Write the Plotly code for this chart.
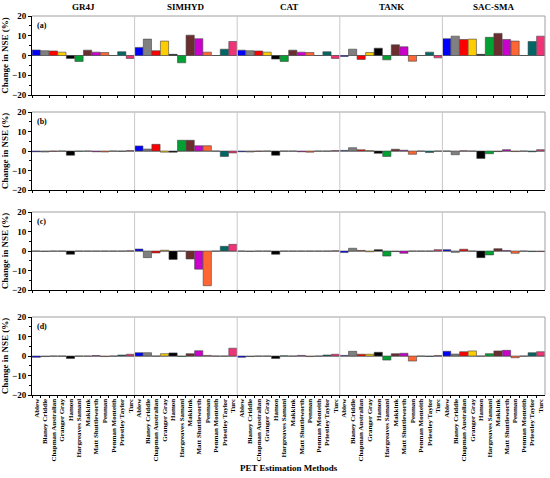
import plotly.graph_objects as go

methods = ["Ablew", "Blaney Criddle", "Chapman Australian", "Granger Gray", "Hamon",
           "Hargreaves Samani", "Makkink", "Matt Shuttleworth", "Penman",
           "Penman Monteith", "Priestley Taylor", "Turc"]
models = ["GR4J", "SIMHYD", "CAT", "TANK", "SAC-SMA"]
panel_labels = ["(a)", "(b)", "(c)", "(d)"]
colors = ["#0000FF", "#808080", "#FF0000", "#FFCC00", "#000000", "#00A033",
          "#6B2D2D", "#CC00CC", "#FF6633", "#FFFFFF", "#006666", "#EE3377"]

nse_a = {
    "GR4J":    [2.8, 2.4, 2.3, 1.7, -1.5, -3.0, 2.7, 1.7, 1.5, 0, 1.9, -1.5],
    "SIMHYD":  [4.1, 8.3, 2.4, 7.3, 0.6, -3.7, 10.3, 8.5, 1.7, 0, 3.2, 7.1],
    "CAT":     [2.7, 2.4, 2.3, 1.7, -1.8, -3.0, 2.7, 1.7, 1.5, 0, 1.9, -1.5],
    "TANK":    [-0.5, 3.2, -2.0, 1.5, 3.7, -2.2, 5.4, 4.4, -2.9, 0, 1.7, -1.2],
    "SAC-SMA": [8.5, 9.8, 8.1, 8.3, 0.6, 9.2, 11.2, 8.1, 7.3, 0, 7.1, 9.8],
}
nse_b = {
    "GR4J":    [-0.4, -0.5, -0.1, 0.0, -2.2, -0.1, 0.0, -0.4, -0.5, 0, -0.1, 0.2],
    "SIMHYD":  [2.6, 1.0, 3.4, -0.6, -0.6, 5.5, 5.5, 2.7, 2.7, 0, -2.8, -1.0],
    "CAT":     [-0.4, -0.5, -0.1, 0.0, -2.2, 0.0, 0.0, -0.4, -0.6, 0, 0.0, 0.2],
    "TANK":    [0.3, 1.7, 0.6, 0.2, -1.2, -2.8, 0.9, 0.4, -1.7, 0, -0.8, 0.0],
    "SAC-SMA": [0.0, -1.9, 0.1, 0.0, -3.8, -1.4, -0.3, 0.7, -0.3, 0, -0.4, 0.7],
}
nse_c = {
    "GR4J":    [0.0, -0.2, 0.0, 0.0, -1.7, 0.0, 0.0, 0.0, 0.0, 0, 0.0, 0.1],
    "SIMHYD":  [1.0, -3.4, -1.0, 0.4, -4.3, 0.0, -4.1, -9.3, -17.8, 0, 2.4, 3.4],
    "CAT":     [0.0, -0.2, 0.0, 0.0, -1.7, 0.0, 0.0, 0.0, 0.0, 0, 0.0, 0.1],
    "TANK":    [-0.8, 1.4, 0.3, -0.4, 0.7, -2.6, -0.3, -1.2, 0.0, 0, 0.0, 0.7],
    "SAC-SMA": [0.7, -0.7, 0.9, 0.0, -3.4, -2.0, 1.2, 0.2, -1.2, 0, -0.3, -0.3],
}
nse_d = {
    "GR4J":    [-0.7, -0.3, 0.0, 0.0, -1.3, 0.0, 0.0, 0.2, -0.3, 0, 0.5, 0.9],
    "SIMHYD":  [1.7, 1.7, 0.0, 1.2, 1.6, -0.2, 1.2, 2.7, 0.3, 0, 0.0, 4.0],
    "CAT":     [-0.7, -0.3, 0.0, 0.0, -1.3, 0.1, 0.0, 0.3, -0.3, 0, 0.5, 0.9],
    "TANK":    [0.3, 2.4, 0.9, 0.9, 1.9, -2.1, 1.2, 1.4, -2.6, 0, -0.2, 0.2],
    "SAC-SMA": [2.4, 1.0, 2.2, 2.6, 0.0, 1.2, 2.6, 2.9, -0.9, 0, 1.7, 2.2],
}
rows_data = [nse_a, nse_b, nse_c, nse_d]

# layout geometry (pixels)
W, H = 550, 478
L, R, T, B = 32, 5, 16, 83
plot_h = H - T - B
row_px = [(16, 95), (112, 190), (212, 290), (317, 395)]
row_dom = [[(395 - b) / plot_h, (395 - t) / plot_h] for t, b in row_px]
ncol = 5

FONT = "Liberation Serif"
fig = go.Figure()
layout = {}
shapes = []
annotations = []

for r, data in enumerate(rows_data):
    for c, m in enumerate(models):
        i = r * ncol + c + 1
        xa = "x" if i == 1 else f"x{i}"
        ya = "y" if i == 1 else f"y{i}"
        fig.add_trace(go.Bar(
            x=methods, y=data[m], xaxis=xa, yaxis=ya,
            marker=dict(color=colors, line=dict(color="#444444", width=0.6)),
            showlegend=False, hoverinfo="x+y"))
        xkey = "xaxis" if i == 1 else f"xaxis{i}"
        ykey = "yaxis" if i == 1 else f"yaxis{i}"
        layout[xkey] = dict(
            domain=[c / ncol, (c + 1) / ncol], anchor=ya,
            type="category", categoryorder="array", categoryarray=methods,
            showline=True, linecolor="black", linewidth=1,
            ticks="outside", ticklen=2, tickcolor="black", tickson="boundaries",
            showticklabels=(r == 3), tickangle=-90,
            tickfont=dict(family=FONT, size=7, color="black", weight="bold"),
            showgrid=False, zeroline=False, fixedrange=True, automargin=False)
        ydict = dict(
            domain=row_dom[r], anchor=xa, range=[-20, 20],
            showgrid=False, zeroline=True, zerolinecolor="#A0A0A0", zerolinewidth=1,
            fixedrange=True, automargin=False)
        if c == 0:
            ydict.update(
                showline=True, linecolor="black", linewidth=1,
                ticks="outside", ticklen=3, tickcolor="black",
                tickvals=[-20, -10, 0, 10, 20],
                minor=dict(tickvals=[-15, -5, 5, 15], ticks="outside", ticklen=2,
                           tickcolor="black"),
                tickfont=dict(family=FONT, size=9, color="black", weight="bold"),
                title=dict(text="Change in NSE (%)", standoff=4,
                           font=dict(family=FONT, size=9, color="black", weight="bold")))
        else:
            ydict.update(showline=False, showticklabels=False, ticks="")
        layout[ykey] = ydict

    # frame: top, right and separators
    y0, y1 = row_dom[r]
    shapes.append(dict(type="line", xref="paper", yref="paper", x0=0, x1=1, y0=y1, y1=y1,
                       line=dict(color="#A0A0A0", width=1)))
    shapes.append(dict(type="line", xref="paper", yref="paper", x0=1, x1=1, y0=y0, y1=y1,
                       line=dict(color="#A0A0A0", width=1)))
    for c in range(1, ncol):
        shapes.append(dict(type="line", xref="paper", yref="paper", x0=c / ncol, x1=c / ncol,
                           y0=y0, y1=y1, line=dict(color="#C8C8C8", width=1)))
    annotations.append(dict(text=panel_labels[r], xref="paper", yref="paper",
                            x=0.006, y=y1 - 0.008, xanchor="left", yanchor="top",
                            showarrow=False,
                            font=dict(family=FONT, size=8, color="black", weight="bold")))

for c, m in enumerate(models):
    annotations.append(dict(text=m, xref="paper", yref="paper",
                            x=(c + 0.5) / ncol, y=1.0, yshift=9, xanchor="center",
                            yanchor="middle", showarrow=False,
                            font=dict(family=FONT, size=9, color="black", weight="bold")))

annotations.append(dict(text="PET Estimation Methods", xref="paper", yref="paper",
                        x=0.5, y=0, yshift=-73, xanchor="center", yanchor="middle",
                        showarrow=False,
                        font=dict(family=FONT, size=9, color="black", weight="bold")))

fig.update_layout(
    width=W, height=H,
    margin=dict(l=L, r=R, t=T, b=B),
    paper_bgcolor="white", plot_bgcolor="white",
    bargap=0.04,
    shapes=shapes, annotations=annotations,
    font=dict(family=FONT, color="black"),
    **layout)

fig.write_html("out.html", config={"displayModeBar": False},
               post_script="document.body.style.margin='0';document.body.style.padding='0';")
